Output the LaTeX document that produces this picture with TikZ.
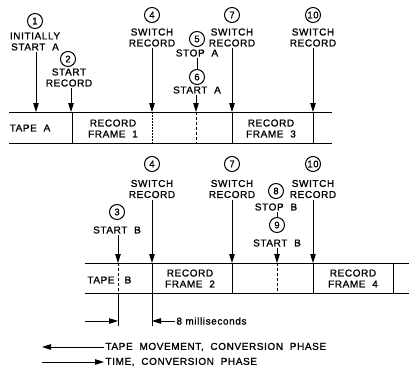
\documentclass[tikz,border=0pt]{standalone}
\usepackage{fontspec}
\setmainfont{Liberation Sans}
\newfontfamily\lettering[LetterSpace=6,FakeBold=1.2]{Liberation Sans}
\usetikzlibrary{arrows.meta}

\tikzset{
  lbl/.style={font=\lettering\fontsize{10}{11}\selectfont, inner sep=0pt, outer sep=1.5pt, align=center},
  num/.style={circle, draw, line width=1pt, minimum size=15pt, inner sep=0pt, font=\lettering\fontsize{9.5}{9.5}\selectfont},
  sig/.style={line width=1pt, -{Triangle[length=9pt,width=5.5pt]}},
  tape/.style={line width=1pt},
  cut/.style={line width=0.7pt, dash pattern=on 3pt off 2pt},
  cutfine/.style={line width=0.7pt, dash pattern=on 2pt off 1pt}
}

\begin{document}
\begin{tikzpicture}[x=1pt, y=-1pt]
\useasboundingbox (0,0) rectangle (409,372);

% Tape A: the first strip
\draw[tape] (9,112) -- (332,112);
\draw[tape] (9,143) -- (332,143);
\draw[tape] (72,112) -- (72,143);
\draw[cutfine] (152,112) -- (152,143);
\draw[cut] (196,112) -- (196,143);
\draw[tape] (232,112) -- (232,143);
\draw[tape] (313,112) -- (313,143);
\node[lbl] (tapeA) at (30,128) {TAPE\ \ A};
\node[lbl] (frame1) at (113,128.5) {RECORD\\FRAME\ \ 1};
\node[lbl] (frame3) at (271,128.5) {RECORD\\FRAME\ \ 3};

% Events on tape A
\coordinate (a1) at (36,112);
\coordinate (a2) at (71,112);
\coordinate (a4) at (152,112);
\coordinate (a6) at (196,112);
\coordinate (a7) at (232,112);
\coordinate (a10) at (313,112);

\node[num] (c1) at (35,21) {1};
\node[lbl] (t1) at (35,41.5) {INITIALLY\\START\ \ A};
\draw[sig] (a1 |- t1.south) -- (a1);

\node[num] (c2) at (68,59) {2};
\node[lbl] (t2) at (69,77.5) {START\\RECORD};
\draw[sig] (a2 |- t2.south) -- (a2);

\node[num] (c4) at (152,15) {4};
\node[lbl] (t4) at (152,37.5) {SWITCH\\RECORD};
\draw[sig] (a4 |- t4.south) -- (a4);

\node[num] (c5) at (197,39) {5};
\node[lbl] (t5) at (197,53) {STOP\ \ A};
\node[num] (c6) at (197,77) {6};
\draw[tape] (c6.north |- t5.south) -- (c6.north);
\node[lbl] (t6) at (197,90) {START\ \ A};
\draw[sig] (a6 |- t6.south) -- (a6);

\node[num] (c7) at (232,15) {7};
\node[lbl] (t7) at (232,37.5) {SWITCH\\RECORD};
\draw[sig] (a7 |- t7.south) -- (a7);

\node[num] (c10) at (313,15) {10};
\node[lbl] (t10) at (313,37.5) {SWITCH\\RECORD};
\draw[sig] (a10 |- t10.south) -- (a10);

% Tape B: the second strip
\draw[tape] (85,263) -- (409,263);
\draw[tape] (85,293) -- (409,293);
\draw[cut] (118,263) -- (118,293);
\draw[tape] (118,293) -- (118,326);
\draw[tape] (152,263) -- (152,326);
\draw[tape] (232,263) -- (232,293);
\draw[cut] (277,263) -- (277,293);
\draw[tape] (313,263) -- (313,293);
\draw[tape] (393,263) -- (393,293);
\node[lbl] (tapeB) at (101,280) {TAPE};
\node[lbl] (tapeBb) at (128,280) {B};
\node[lbl] (frame2) at (190,278.5) {RECORD\\FRAME\ \ 2};
\node[lbl] (frame4) at (353,278.5) {RECORD\\FRAME\ \ 4};

% Events on tape B
\coordinate (b3) at (118,263);
\coordinate (b4) at (152,263);
\coordinate (b7) at (232,263);
\coordinate (b9) at (277,263);
\coordinate (b10) at (313,263);

\node[num] (c3) at (117,212) {3};
\node[lbl] (t3) at (117,230) {START\ \ B};
\draw[sig] (b3 |- t3.south) -- (b3);

\node[num] (c4b) at (152,164) {4};
\node[lbl] (t4b) at (152,189) {SWITCH\\RECORD};
\draw[sig] (b4 |- t4b.south) -- (b4);

\node[num] (c7b) at (232,164) {7};
\node[lbl] (t7b) at (232,189) {SWITCH\\RECORD};
\draw[sig] (b7 |- t7b.south) -- (b7);

\node[num] (c8) at (276,191) {8};
\node[lbl] (t8) at (276,207) {STOP\ \ B};
\node[num] (c9) at (277,225) {9};
\draw[tape] (c9.north |- t8.south) -- (c9.north);
\node[lbl] (t9) at (277,243) {START\ \ B};
\draw[sig] (b9 |- t9.south) -- (b9);

\node[num] (c10b) at (313,164) {10};
\node[lbl] (t10b) at (313,189) {SWITCH\\RECORD};
\draw[sig] (b10 |- t10b.south) -- (b10);

% Offset between the strips
\coordinate (d0) at (85,321);
\coordinate (d3) at (118,321);
\coordinate (d4) at (152,321);
\draw[sig] (d0) -- (d3);
\node[lbl, anchor=west] (ms) at (175,321) {8 milliseconds};
\draw[sig] (ms.west) -- (d4);

% Legend
\node[lbl, anchor=west] (key1) at (104,347) {TAPE\ \ MOVEMENT,\ \ CONVERSION\ \ PHASE};
\coordinate (key1a) at (42,347);
\draw[sig] (key1.west) -- (key1a);
\node[lbl, anchor=west] (key2) at (104,362) {TIME,\ \ CONVERSION\ \ PHASE};
\coordinate (key2a) at (42,362);
\draw[sig] (key2a) -- (key2.west);

\end{tikzpicture}
\end{document}
